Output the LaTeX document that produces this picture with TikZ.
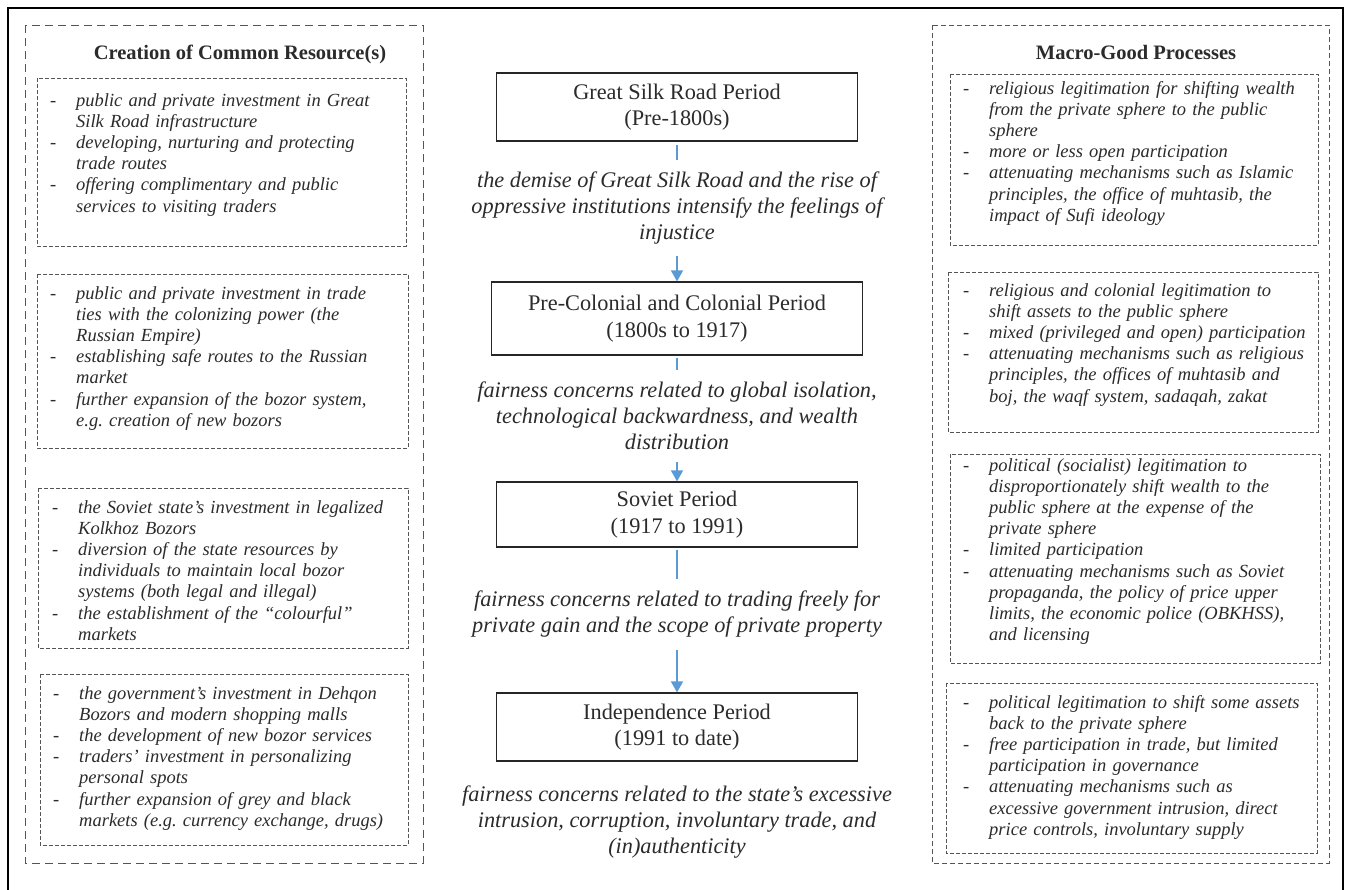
\documentclass[tikz,border=0pt]{standalone}
\usepackage{fontspec}
\setmainfont{Liberation Serif}
\usetikzlibrary{arrows.meta}
\frenchspacing
\definecolor{txt}{HTML}{2B2B2B}
\definecolor{dashgray}{HTML}{555555}
\definecolor{flowblue}{HTML}{5B9BD5}
\newcommand\bdash{\makebox[26pt][l]{-}}
\newcommand\itemind{\hspace*{26pt}}
\tikzset{
  frame/.style={draw=black, line width=2.2pt},
  outerL/.style={draw=dashgray, line width=0.9pt, dash pattern=on 8pt off 5pt},
  outerR/.style={draw=dashgray, line width=0.8pt, dash pattern=on 5pt off 3pt},
  innerbox/.style={draw=dashgray, line width=0.8pt, dash pattern=on 4pt off 2pt},
  coltitle/.style={anchor=base, inner sep=0, font=\fontsize{20.5}{24}\selectfont\bfseries, text=txt},
  items/.style={anchor=base west, inner sep=0, text width=345pt, align=left,
    font=\fontsize{18.5}{21.2}\selectfont\itshape, text=txt},
  period/.style={draw=black!85, line width=1.2pt, align=center, inner sep=0,
    font=\fontsize{22.3}{26.5}\selectfont, text=txt},
  trans/.style={align=center, inner sep=0, outer sep=12pt,
    font=\fontsize{22.3}{26}\selectfont\itshape, text=txt},
  flow/.style={draw=flowblue, line width=1.6pt},
  flowarrow/.style={flow, -{Triangle[width=12pt,length=11pt]}}
}
\begin{document}
\begin{tikzpicture}[x=1pt,y=-1pt]
\useasboundingbox (0,0) rectangle (1346,889);
\clip (0,0) rectangle (1346,889);
\fill[white] (0,0) rectangle (1346,889);
% outer frame (bottom edge lies outside the picture)
\draw[frame] (8,8) rectangle (1343,900);

% ---------- left column ----------
\draw[outerL] (25,25) rectangle (423,863);
\node[coltitle] (ltitle) at (240,59) {Creation of Common Resource(s)};

\draw[innerbox] (37,78) rectangle (406,246);
\node[items] (l1) at (50,106) {\bdash public and private investment in Great\\
\itemind Silk Road infrastructure\\
\bdash developing, nurturing and protecting\\
\itemind trade routes\\
\bdash offering complimentary and public\\
\itemind services to visiting traders};

\draw[innerbox] (37,274) rectangle (408,448);
\node[items] (l2) at (50,299) {\bdash public and private investment in trade\\
\itemind ties with the colonizing power (the\\
\itemind Russian Empire)\\
\bdash establishing safe routes to the Russian\\
\itemind market\\
\bdash further expansion of the bozor system,\\
\itemind e.g. creation of new bozors};

\draw[innerbox] (38,488) rectangle (408,648);
\node[items] (l3) at (52,513) {\bdash the Soviet state’s investment in legalized\\
\itemind Kolkhoz Bozors\\
\bdash diversion of the state resources by\\
\itemind individuals to maintain local bozor\\
\itemind systems (both legal and illegal)\\
\bdash the establishment of the “colourful”\\
\itemind markets};

\draw[innerbox] (40,674) rectangle (408,845);
\node[items] (l4) at (53,699) {\bdash the government’s investment in Dehqon\\
\itemind Bozors and modern shopping malls\\
\bdash the development of new bozor services\\
\bdash traders’ investment in personalizing\\
\itemind personal spots\\
\bdash further expansion of grey and black\\
\itemind markets (e.g. currency exchange, drugs)};

% ---------- right column ----------
\draw[outerR] (932,25) rectangle (1329,863);
\node[coltitle] (rtitle) at (1136,59) {Macro-Good Processes};

\draw[innerbox] (950,74) rectangle (1318,245);
\node[items] (r1) at (963,94) {\bdash religious legitimation for shifting wealth\\
\itemind from the private sphere to the public\\
\itemind sphere\\
\bdash more or less open participation\\
\bdash attenuating mechanisms such as Islamic\\
\itemind principles, the office of muhtasib, the\\
\itemind impact of Sufi ideology};

\draw[innerbox] (948,272) rectangle (1318,432);
\node[items] (r2) at (963,296) {\bdash religious and colonial legitimation to\\
\itemind shift assets to the public sphere\\
\bdash mixed (privileged and open) participation\\
\bdash attenuating mechanisms such as religious\\
\itemind principles, the offices of muhtasib and\\
\itemind boj, the waqf system, sadaqah, zakat};

\draw[innerbox] (950,454) rectangle (1320,663);
\node[items] (r3) at (963,471) {\bdash political (socialist) legitimation to\\
\itemind disproportionately shift wealth to the\\
\itemind public sphere at the expense of the\\
\itemind private sphere\\
\bdash limited participation\\
\bdash attenuating mechanisms such as Soviet\\
\itemind propaganda, the policy of price upper\\
\itemind limits, the economic police (OBKHSS),\\
\itemind and licensing};

\draw[innerbox] (946,683) rectangle (1317,853);
\node[items] (r4) at (963,708) {\bdash political legitimation to shift some assets\\
\itemind back to the private sphere\\
\bdash free participation in trade, but limited\\
\itemind participation in governance\\
\bdash attenuating mechanisms such as\\
\itemind excessive government intrusion, direct\\
\itemind price controls, involuntary supply};

% ---------- centre column ----------
\node[period, minimum width=361pt, minimum height=68pt] (c1) at (677,107)
  {Great Silk Road Period\\(Pre-1800s)};
\node[trans] (t1) at (677,208)
  {the demise of Great Silk Road and the rise of\\oppressive institutions intensify the feelings of\\injustice};
\node[period, minimum width=371pt, minimum height=73pt] (c2) at (677,318.5)
  {Pre-Colonial and Colonial Period\\(1800s to 1917)};
\node[trans] (t2) at (677,416)
  {fairness concerns related to global isolation,\\technological backwardness, and wealth\\distribution};
\node[period, minimum width=361pt, minimum height=65pt] (c3) at (677,514.5)
  {Soviet Period\\(1917 to 1991)};
\node[trans] (t3) at (677,614.5)
  {fairness concerns related to trading freely for\\private gain and the scope of private property};
\node[period, minimum width=361pt, minimum height=68pt] (c4) at (677,727)
  {Independence Period\\(1991 to date)};
\node[trans] (t4) at (677,822)
  {fairness concerns related to the state’s excessive\\intrusion, corruption, involuntary trade, and\\(in)authenticity};

\draw[flow, shorten <=3pt] (c1.south) -- (t1.north);
\draw[flowarrow] (t1.south) -- (c2.north);
\draw[flow, shorten <=2pt] (c2.south) -- (t2.north);
\draw[flowarrow] (t2.south) -- (c3.north);
\draw[flow, shorten <=2pt] (c3.south) -- (t3.north);
\draw[flowarrow] (t3.south) -- (c4.north);
\end{tikzpicture}
\end{document}
